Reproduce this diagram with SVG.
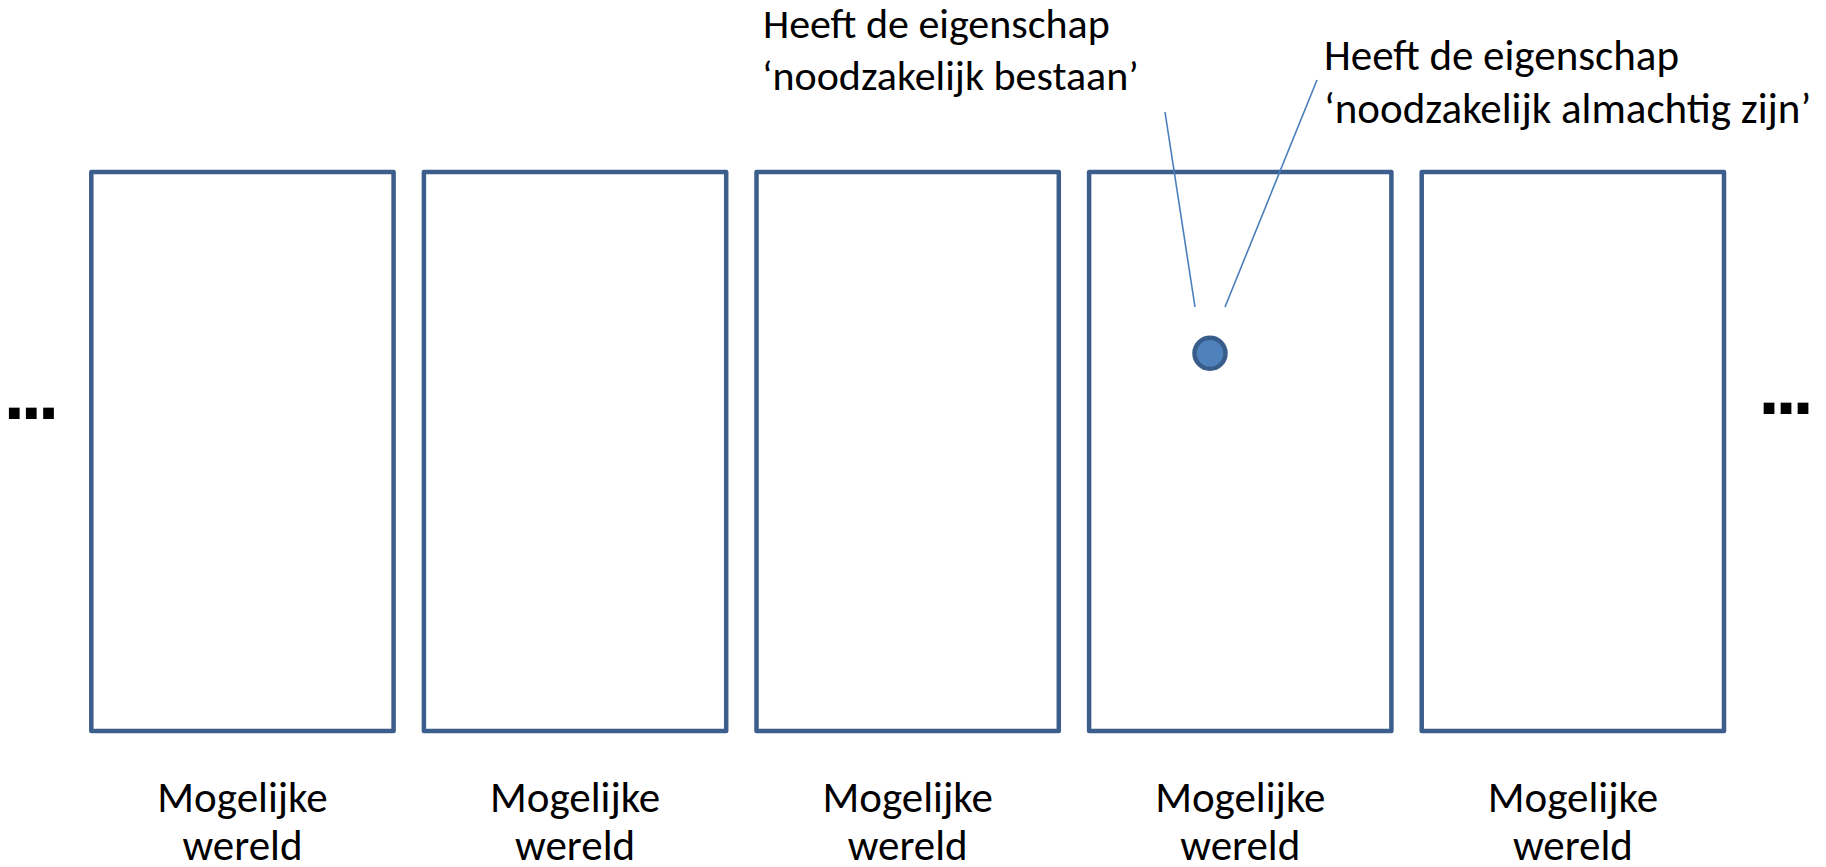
<svg xmlns="http://www.w3.org/2000/svg" width="1826" height="867" viewBox="0 0 1826 867">
  <style>
    .world { fill: #FFFFFF; stroke: #3B5E8C; stroke-width: 4.5; stroke-linejoin: round; }
    .lbl { font-family: Carlito, Lato, "Open Sans", sans-serif; font-size: 43px; fill: #000000; }
    .top { font-size: 42px; }
    .mid { text-anchor: middle; }
    .dots { font-family: "Liberation Sans", Arial, sans-serif; font-weight: bold; font-size: 76px; letter-spacing: -4px; fill: #000000; }
    .leader { stroke: #4A7EBB; stroke-width: 1.6; fill: none; }
    .point { fill: #4F81BD; stroke: #385D8A; stroke-width: 4.5; }
  </style>
  <rect width="1826" height="867" fill="#FFFFFF"/>

  <g id="world1">
    <rect class="world" x="91.3" y="172" width="302.3" height="559"/>
    <text class="lbl mid" x="242.5" y="811.5">Mogelijke</text>
    <text class="lbl mid" x="242.5" y="860">wereld</text>
  </g>
  <g id="world2">
    <rect class="world" x="423.9" y="172" width="302.3" height="559"/>
    <text class="lbl mid" x="575.1" y="811.5">Mogelijke</text>
    <text class="lbl mid" x="575.1" y="860">wereld</text>
  </g>
  <g id="world3">
    <rect class="world" x="756.5" y="172" width="302.3" height="559"/>
    <text class="lbl mid" x="907.7" y="811.5">Mogelijke</text>
    <text class="lbl mid" x="907.7" y="860">wereld</text>
  </g>
  <g id="world4">
    <rect class="world" x="1089.1" y="172" width="302.3" height="559"/>
    <text class="lbl mid" x="1240.3" y="811.5">Mogelijke</text>
    <text class="lbl mid" x="1240.3" y="860">wereld</text>
  </g>
  <g id="world5">
    <rect class="world" x="1421.7" y="172" width="302.3" height="559"/>
    <text class="lbl mid" x="1572.9" y="811.5">Mogelijke</text>
    <text class="lbl mid" x="1572.9" y="860">wereld</text>
  </g>

  <g id="ellipsis-left">
    <text class="dots" x="3.7" y="418.5">...</text>
  </g>
  <g id="ellipsis-right">
    <text class="dots" x="1758.4" y="413.5">...</text>
  </g>

  <g id="label-bestaan">
    <text class="lbl top" x="763" y="37.5">Heeft de eigenschap</text>
    <text class="lbl top" x="762" y="89.5">‘noodzakelijk bestaan’</text>
  </g>
  <g id="label-almachtig">
    <text class="lbl" x="1324" y="70">Heeft de eigenschap</text>
    <text class="lbl" x="1324" y="123">‘noodzakelijk almachtig zijn’</text>
  </g>

  <g id="connectors">
    <line class="leader" x1="1165" y1="112" x2="1195" y2="307"/>
    <line class="leader" x1="1317" y1="80" x2="1225" y2="307"/>
  </g>

  <g id="entity">
    <circle class="point" cx="1210" cy="353.3" r="15.5"/>
  </g>
</svg>
